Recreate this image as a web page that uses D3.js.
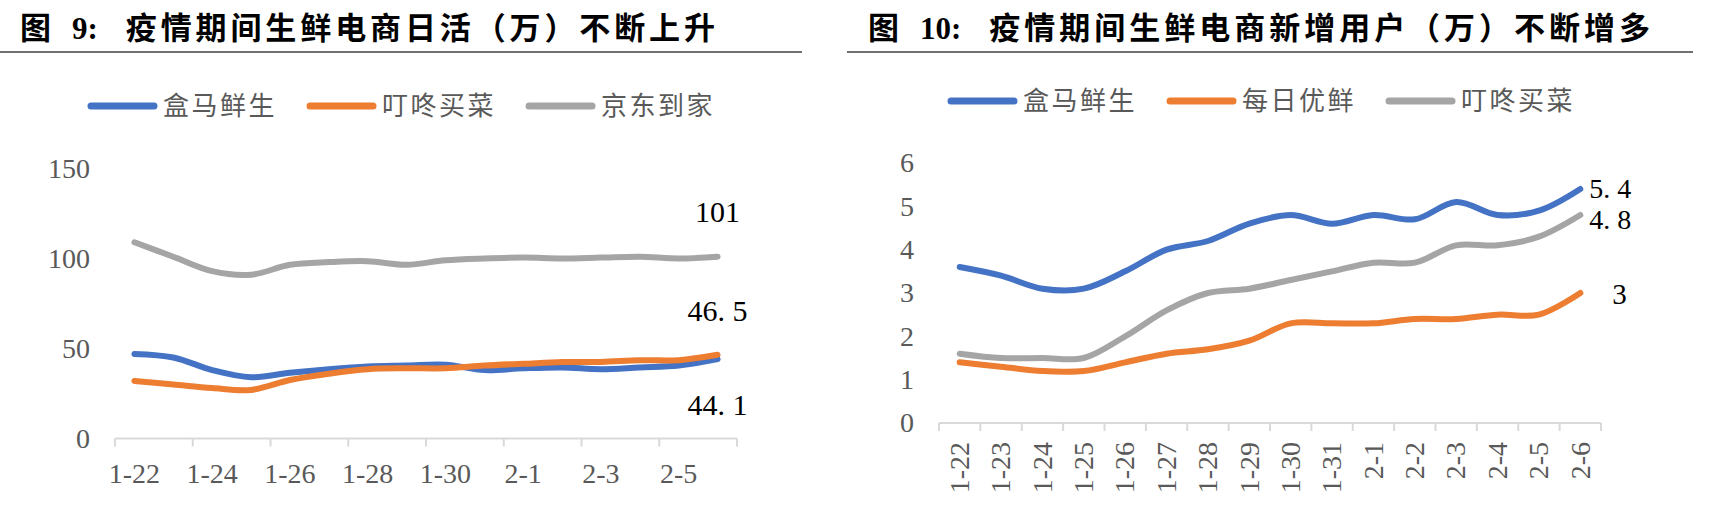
<!DOCTYPE html>
<html>
<head>
<meta charset="utf-8">
<script src="https://cdn.jsdelivr.net/npm/d3@7"></script>
<style>
  html, body { margin: 0; padding: 0; background: #fff; }
  svg { display: block; }
</style>
</head>
<body>
<svg id="chart" width="1710" height="510"></svg>
<script>
const dates = ['1-22','1-23','1-24','1-25','1-26','1-27','1-28','1-29','1-30','1-31','2-1','2-2','2-3','2-4','2-5','2-6'];

// 图9: daily active users (万)
const dauNames = ['盒马鲜生', '叮咚买菜', '京东到家'];
const dauHema     = [47, 45, 38, 34, 36.5, 38.5, 40, 40.5, 41, 38, 39, 39.5, 38.5, 39.5, 40.5, 44.1];
const dauDingdong = [32, 30, 28, 27, 32.5, 36, 38.5, 39, 39, 40.5, 41.5, 42.5, 42.5, 43.5, 43.5, 46.5];
const dauJd       = [109, 101, 93, 91, 96.5, 98, 98.5, 96.5, 99, 100, 100.5, 100, 100.5, 101, 100, 101];
const dauTicks = [0, 50, 100, 150];
const dauDateLabels = ['1-22','1-24','1-26','1-28','1-30','2-1','2-3','2-5'];

// 图10: new users (万)
const newNames = ['盒马鲜生', '每日优鲜', '叮咚买菜'];
const newHema      = [3.6, 3.4, 3.1, 3.1, 3.5, 4.0, 4.2, 4.6, 4.8, 4.6, 4.8, 4.7, 5.1, 4.8, 4.9, 5.4];
const newMissfresh = [1.4, 1.3, 1.2, 1.2, 1.4, 1.6, 1.7, 1.9, 2.3, 2.3, 2.3, 2.4, 2.4, 2.5, 2.5, 3.0];
const newDingdong  = [1.6, 1.5, 1.5, 1.5, 2.0, 2.6, 3.0, 3.1, 3.3, 3.5, 3.7, 3.7, 4.1, 4.1, 4.3, 4.8];
const newTicks = [0, 1, 2, 3, 4, 5, 6];

const COLOURS = ['#4472c4', '#ed7d31', '#a5a5a5'];
const SERIF = "'Liberation Serif', 'Times New Roman', serif";
const CJK = "'Noto Sans CJK SC', 'Noto Sans CJK JP', sans-serif";
const GREY_TEXT = '#595959';
const AXIS = '#d9d9d9';

const svg = d3.select('#chart');

function endLabel(v) { return String(v).replace('.', '. '); }

function drawTitle(x0, num, rest, restEnd) {
  const g = svg.append('g');
  g.append('text').attr('x', x0).attr('y', 39)
    .attr('font-family', CJK).attr('font-weight', 700).attr('font-size', 31)
    .text('图');
  const n = g.append('text').attr('x', x0 + 52).attr('y', 39)
    .attr('font-family', SERIF).attr('font-weight', 700).attr('font-size', 31)
    .text(num + ':');
  const nEnd = x0 + 52 + n.node().getComputedTextLength();
  g.append('text').attr('x', nEnd + 28).attr('y', 39)
    .attr('font-family', CJK).attr('font-weight', 700).attr('font-size', 31)
    .attr('textLength', restEnd - nEnd - 28).attr('lengthAdjust', 'spacing')
    .text(rest);
}

function drawLegend(names, x0, y) {
  let x = x0;
  names.forEach((name, i) => {
    svg.append('line')
      .attr('x1', x + 3).attr('x2', x + 66).attr('y1', y).attr('y2', y)
      .attr('stroke', COLOURS[i]).attr('stroke-width', 7).attr('stroke-linecap', 'round');
    const t = svg.append('text')
      .attr('x', x + 75).attr('y', y).attr('dy', '0.36em')
      .attr('font-family', CJK).attr('font-size', 26).attr('letter-spacing', 2.5)
      .attr('fill', GREY_TEXT).text(name);
    x = x + 75 + t.node().getComputedTextLength() + 30;
  });
}

function drawPanel(cfg) {
  const g = svg.append('g');
  const x = d3.scaleBand().domain(dates).range(cfg.xRange).padding(0);
  const y = d3.scaleLinear().domain(cfg.yDomain).range(cfg.yRange);
  const cx = d => x(d) + x.bandwidth() / 2;
  const y0 = y(0);

  // y labels
  const yAxis = d3.axisLeft(y).tickValues(cfg.yTicks).tickFormat(d3.format('d'))
    .tickSize(0).tickPadding(0);
  const ya = g.append('g').attr('transform', `translate(${cfg.yLabelX},0)`).call(yAxis);
  ya.select('.domain').remove();
  ya.attr('font-family', SERIF).attr('font-size', 28);
  ya.selectAll('text').attr('fill', GREY_TEXT);

  // category axis line and boundary ticks
  g.append('line')
    .attr('x1', cfg.xRange[0]).attr('x2', cfg.xRange[1]).attr('y1', y0).attr('y2', y0)
    .attr('stroke', AXIS).attr('stroke-width', 2);
  const bounds = d3.range(0, dates.length + 1, cfg.tickEvery);
  g.selectAll('.bt').data(bounds).join('line')
    .attr('x1', i => cfg.xRange[0] + i * x.step()).attr('x2', i => cfg.xRange[0] + i * x.step())
    .attr('y1', y0).attr('y2', y0 + 8)
    .attr('stroke', AXIS).attr('stroke-width', 2);

  // category labels
  const xAxis = d3.axisBottom(x).tickValues(cfg.xLabels).tickSize(0);
  const xa = g.append('g').attr('transform', `translate(0,${y0})`).call(xAxis);
  xa.select('.domain').remove();
  xa.attr('font-family', SERIF).attr('font-size', 28);
  xa.selectAll('text').attr('fill', GREY_TEXT);
  if (cfg.rotate) {
    xa.selectAll('text')
      .attr('text-anchor', 'end')
      .attr('x', 0).attr('y', 0).attr('dy', '0.33em')
      .attr('transform', 'translate(0,19) rotate(-90)');
  } else {
    xa.selectAll('text').attr('y', 44).attr('dy', 0);
  }

  // series
  const line = d3.line()
    .x((d, i) => cx(dates[i]))
    .y(d => y(d))
    .curve(d3.curveCatmullRom.alpha(0.5));
  cfg.series.forEach((vals, i) => {
    g.append('path').datum(vals)
      .attr('d', line)
      .attr('fill', 'none')
      .attr('stroke', COLOURS[i]).attr('stroke-width', 6)
      .attr('stroke-linecap', 'round').attr('stroke-linejoin', 'round');
  });

  // end value labels
  const last = dates[dates.length - 1];
  cfg.series.forEach((vals, i) => {
    const v = vals[vals.length - 1];
    const pos = cfg.labelPos[i];
    g.append('text')
      .attr('x', cx(last) + pos.dx)
      .attr('y', y(v) + pos.dy)
      .attr('text-anchor', pos.anchor)
      .attr('font-family', SERIF).attr('font-size', pos.size || 30)
      .attr('fill', '#000')
      .text(endLabel(v));
  });
}

// header rules
svg.append('line').attr('x1', 0).attr('x2', 802).attr('y1', 52).attr('y2', 52)
  .attr('stroke', '#404040').attr('stroke-width', 1.5);
svg.append('line').attr('x1', 847).attr('x2', 1693).attr('y1', 52).attr('y2', 52)
  .attr('stroke', '#404040').attr('stroke-width', 1.5);

drawTitle(20, '9', '疫情期间生鲜电商日活（万）不断上升', 715);
drawTitle(868, '10', '疫情期间生鲜电商新增用户（万）不断增多', 1650);

drawLegend(dauNames, 88, 106);
drawLegend(newNames, 948, 101);

drawPanel({
  xRange: [115, 737], yDomain: [0, 150], yRange: [438.5, 168.5],
  yTicks: dauTicks, yLabelX: 90, xLabels: dauDateLabels, tickEvery: 2, rotate: false,
  series: [dauHema, dauDingdong, dauJd],
  labelPos: [
    { dx: 0, dy: 56, anchor: 'middle' },
    { dx: 0, dy: -34, anchor: 'middle' },
    { dx: 0, dy: -35, anchor: 'middle' }
  ]
});

drawPanel({
  xRange: [939, 1601], yDomain: [0, 6], yRange: [423, 163],
  yTicks: newTicks, yLabelX: 914, xLabels: dates, tickEvery: 1, rotate: true,
  series: [newHema, newMissfresh, newDingdong],
  labelPos: [
    { dx: 9, dy: 9, anchor: 'start', size: 28 },
    { dx: 32, dy: 11, anchor: 'start', size: 29 },
    { dx: 9, dy: 14, anchor: 'start', size: 28 }
  ]
});
</script>
</body>
</html>
